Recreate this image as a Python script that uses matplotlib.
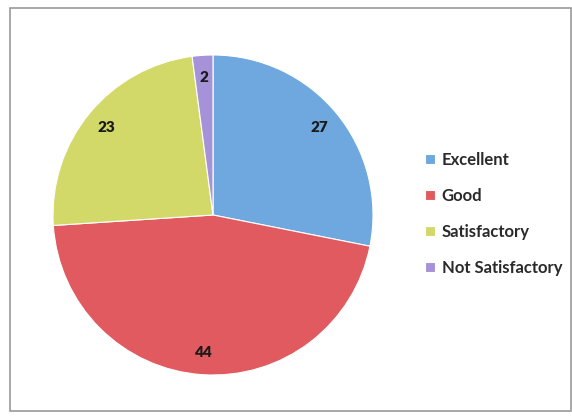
import matplotlib
matplotlib.use("Agg")
import matplotlib.pyplot as plt
from matplotlib.patches import Rectangle

categories = ["Excellent", "Good", "Satisfactory", "Not Satisfactory"]
values = [27, 44, 23, 2]
colors = ["#6EA8DE", "#E15A5F", "#D3D968", "#A592D8"]

plt.rcParams['font.family'] = ['Lato', 'DejaVu Sans']

fig = plt.figure(figsize=(5.72, 4.19), dpi=100)
fig.patch.set_facecolor("white")
fig.patches.append(Rectangle((10/572, 1-411/419), 561/572, 403/419,
                             transform=fig.transFigure, fill=False,
                             edgecolor="#9a9a9a", linewidth=1.2))

ax = fig.add_axes([53/572, 1-375/419, 320/572, 320/419])
total = sum(values)
wedges, texts, autotexts = ax.pie(
    values, colors=colors, startangle=90, counterclock=False,
    autopct=lambda p: f"{round(p*total/100):d}", pctdistance=0.86,
    wedgeprops=dict(edgecolor="white", linewidth=0.8))
for t in autotexts:
    t.set_fontsize(11)
    t.set_fontweight("heavy")
    t.set_color("#1a1a1a")
ax.set_xlim(-1, 1)
ax.set_ylim(-1, 1)
ax.set_aspect("equal")

leg = fig.legend(wedges, categories, loc="upper left",
                 bbox_to_anchor=(410/572, 1-137/419), frameon=False,
                 prop=dict(size=12, weight="bold"), handlelength=0.6,
                 handleheight=0.6, handletextpad=0.4, labelspacing=1.2)
for t in leg.get_texts():
    t.set_color("#2a2a2a")

fig.savefig("out.png", dpi=100)
